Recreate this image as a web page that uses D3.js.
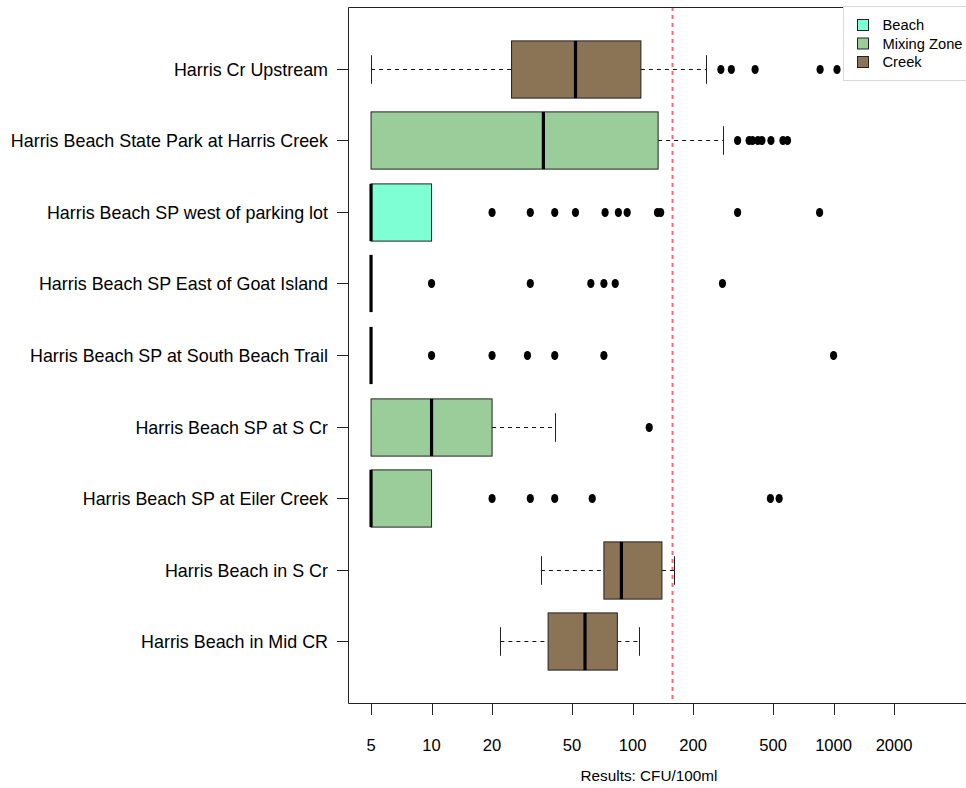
<!DOCTYPE html>
<html>
<head>
<meta charset="utf-8">
<script src="https://cdn.jsdelivr.net/npm/d3@7"></script>
<style>
  body { margin: 0; background: #fff; }
  svg { display: block; font-family: "Liberation Sans", Arial, sans-serif; }
</style>
</head>
<body>
<svg id="chart" width="966" height="788"></svg>
<script>
// sites, top to bottom
var sites = [
  "Harris Cr Upstream",
  "Harris Beach State Park at Harris Creek",
  "Harris Beach SP west of parking lot",
  "Harris Beach SP East of Goat Island",
  "Harris Beach SP at South Beach Trail",
  "Harris Beach SP at S Cr ",
  "Harris Beach SP at Eiler Creek",
  "Harris Beach in S Cr",
  "Harris Beach in Mid CR"
];
var siteType = ["Creek", "Mixing Zone", "Beach", "Beach", "Beach", "Mixing Zone", "Mixing Zone", "Creek", "Creek"];

// box stats: lower whisker, q1, median, q3, upper whisker
var whiskLo = [5, 5, 5, 5, 5, 5, 5, 35, 22];
var q1      = [25, 5, 5, 5, 5, 5, 5, 72, 38];
var median  = [52, 36, 5, 5, 5, 10, 5, 88, 58];
var q3      = [110, 134, 10, 5, 5, 20, 10, 140, 84];
var whiskHi = [233, 283, 10, 5, 5, 41, 10, 161, 108];

var outliers = [
  [275, 310, 407, 857, 1040],
  [333, 380, 395, 420, 440, 488, 560, 590],
  [20, 31, 41, 52, 73, 85, 94, 133, 138, 333, 852],
  [10, 31, 62, 72, 82, 280],
  [10, 20, 30, 41, 72, 1000],
  [121],
  [20, 31, 41, 63, 485, 536],
  [],
  []
];

var tickValues = [5, 10, 20, 50, 100, 200, 500, 1000, 2000];
var threshold = 158;

var legendNames = ["Beach", "Mixing Zone", "Creek"];
var legendColors = ["#7FFFD4", "#9BCD9B", "#8B7355"];

var svg = d3.select("#chart");

var plotL = 348, plotR = 967, plotT = 7, plotB = 703;

var x = d3.scaleLog()
  .domain([3.84, 4610])
  .range([plotL, plotR]);

var y = d3.scaleBand()
  .domain(sites)
  .range([plotT, plotB])
  .paddingInner(0)
  .paddingOuter(0.367);

var color = d3.scaleOrdinal().domain(legendNames).range(legendColors);

var boxH = y.step() * 0.8;
var capH = boxH * 0.5;

var rows = sites.map(function (s, i) {
  return {
    site: s, type: siteType[i], lo: whiskLo[i], q1: q1[i], med: median[i],
    q3: q3[i], hi: whiskHi[i], out: outliers[i],
    cy: Math.round(y(s) + y.bandwidth() / 2) + 0.5
  };
});

// threshold line
svg.append("line")
  .attr("x1", x(threshold)).attr("x2", x(threshold))
  .attr("y1", plotT).attr("y2", plotB)
  .attr("stroke", "#ff6b6b")
  .attr("stroke-width", 2)
  .attr("stroke-dasharray", "4,4");

var g = svg.selectAll("g.row")
  .data(rows)
  .enter().append("g")
  .attr("class", "row");

// whiskers
g.filter(function (d) { return d.lo < d.q1; }).append("line")
  .attr("x1", function (d) { return x(d.lo); })
  .attr("x2", function (d) { return x(d.q1); })
  .attr("y1", function (d) { return d.cy; })
  .attr("y2", function (d) { return d.cy; })
  .attr("stroke", "#111").attr("stroke-dasharray", "4,4");

g.filter(function (d) { return d.hi > d.q3; }).append("line")
  .attr("x1", function (d) { return x(d.q3); })
  .attr("x2", function (d) { return x(d.hi); })
  .attr("y1", function (d) { return d.cy; })
  .attr("y2", function (d) { return d.cy; })
  .attr("stroke", "#111").attr("stroke-dasharray", "4,4");

// caps
g.filter(function (d) { return d.lo < d.q1; }).append("line")
  .attr("x1", function (d) { return Math.round(x(d.lo)) + 0.5; })
  .attr("x2", function (d) { return Math.round(x(d.lo)) + 0.5; })
  .attr("y1", function (d) { return d.cy - capH / 2; })
  .attr("y2", function (d) { return d.cy + capH / 2; })
  .attr("stroke", "#222");

g.filter(function (d) { return d.hi > d.q3; }).append("line")
  .attr("x1", function (d) { return Math.round(x(d.hi)) + 0.5; })
  .attr("x2", function (d) { return Math.round(x(d.hi)) + 0.5; })
  .attr("y1", function (d) { return d.cy - capH / 2; })
  .attr("y2", function (d) { return d.cy + capH / 2; })
  .attr("stroke", "#222");

// boxes
g.filter(function (d) { return d.q3 > d.q1; }).append("rect")
  .attr("x", function (d) { return x(d.q1); })
  .attr("width", function (d) { return x(d.q3) - x(d.q1); })
  .attr("y", function (d) { return d.cy - boxH / 2; })
  .attr("height", boxH)
  .attr("fill", function (d) { return color(d.type); })
  .attr("stroke", "#222");

// medians
g.append("line")
  .attr("x1", function (d) { return x(d.med); })
  .attr("x2", function (d) { return x(d.med); })
  .attr("y1", function (d) { return d.cy - boxH / 2; })
  .attr("y2", function (d) { return d.cy + boxH / 2; })
  .attr("stroke", "#000")
  .attr("stroke-width", 3.2);

// outliers
g.selectAll("ellipse")
  .data(function (d) { return d.out.map(function (v) { return { v: v, cy: d.cy }; }); })
  .enter().append("ellipse")
  .attr("cx", function (d) { return x(d.v); })
  .attr("cy", function (d) { return d.cy; })
  .attr("rx", 3.6)
  .attr("ry", 4.6)
  .attr("fill", "#000");

// frame
svg.append("path")
  .attr("d", "M" + plotR + "," + (plotT + 0.5) + "H" + (plotL + 0.5) + "V" + (plotB + 0.5) + "H" + plotR)
  .attr("fill", "none")
  .attr("stroke", "#222");

// y axis ticks + labels
var yt = svg.selectAll("g.ytick")
  .data(rows)
  .enter().append("g")
  .attr("class", "ytick");

yt.append("line")
  .attr("x1", plotL - 11).attr("x2", plotL)
  .attr("y1", function (d) { return d.cy; })
  .attr("y2", function (d) { return d.cy; })
  .attr("stroke", "#222");

yt.append("text")
  .attr("x", 328)
  .attr("y", function (d) { return d.cy; })
  .attr("dy", "0.35em")
  .attr("text-anchor", "end")
  .style("font-size", "17.9px")
  .attr("fill", "#000")
  .text(function (d) { return d.site; });

// x axis ticks + labels
var xt = svg.selectAll("g.xtick")
  .data(tickValues)
  .enter().append("g")
  .attr("class", "xtick");

xt.append("line")
  .attr("x1", function (d) { return Math.round(x(d)) + 0.5; })
  .attr("x2", function (d) { return Math.round(x(d)) + 0.5; })
  .attr("y1", plotB).attr("y2", plotB + 12)
  .attr("stroke", "#222");

xt.append("text")
  .attr("x", function (d) { return x(d); })
  .attr("y", 745)
  .attr("dy", "0.35em")
  .attr("text-anchor", "middle")
  .style("font-size", "16.6px")
  .text(function (d) { return d; });

svg.append("text")
  .attr("x", 649)
  .attr("y", 776)
  .attr("dy", "0.35em")
  .attr("text-anchor", "middle")
  .style("font-size", "15.3px")
  .text("Results: CFU/100ml");

// legend
var lg = svg.append("g").attr("transform", "translate(843.5,6.5)");
lg.append("rect")
  .attr("width", 140).attr("height", 74)
  .attr("fill", "#fff")
  .attr("stroke", "#d9d9d9");

var li = lg.selectAll("g.item")
  .data(legendNames)
  .enter().append("g")
  .attr("class", "item")
  .attr("transform", function (d, i) { return "translate(0," + (18.5 + i * 18.5) + ")"; });

li.append("rect")
  .attr("x", 14).attr("y", -5.5)
  .attr("width", 11).attr("height", 11)
  .attr("fill", function (d) { return color(d); })
  .attr("stroke", "#222");

li.append("text")
  .attr("x", 39)
  .attr("dy", "0.35em")
  .style("font-size", "14.7px")
  .text(function (d) { return d; });
</script>
</body>
</html>
